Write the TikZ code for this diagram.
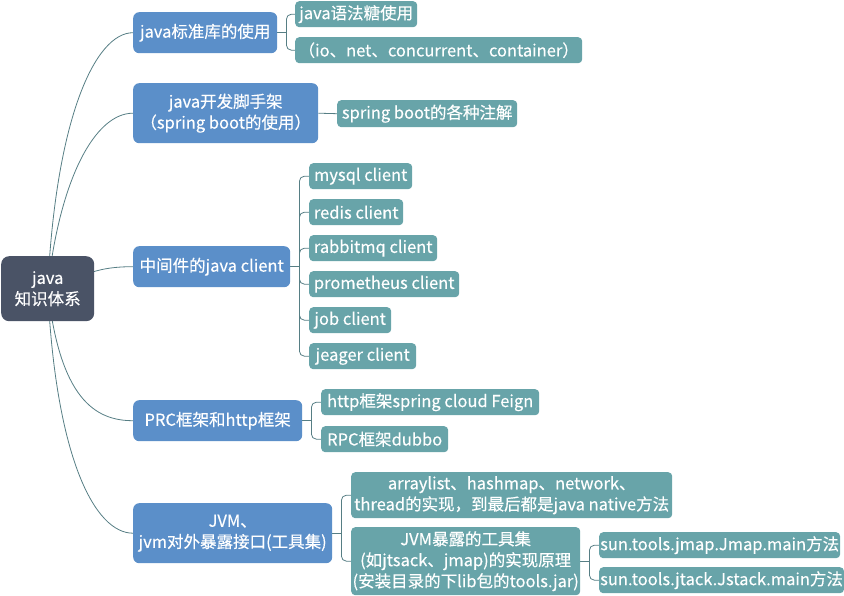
\documentclass[tikz,border=0pt]{standalone}
\usepackage{fontspec}
\setmainfont{Noto Sans CJK SC}[FakeBold=0.3]
\usetikzlibrary{backgrounds}
\definecolor{rootc}{RGB}{74,83,102}
\definecolor{lonec}{RGB}{91,143,201}
\definecolor{ltwoc}{RGB}{104,164,169}
\definecolor{connc}{RGB}{86,126,132}
\tikzset{
  box/.style={anchor=north west, text=white, align=center, inner sep=1pt,
    font=\fontsize{16.5}{21}\selectfont},
  rootbox/.style={box, fill=rootc, rounded corners=8pt},
  lone/.style={box, fill=lonec, rounded corners=6pt},
  ltwo/.style={box, fill=ltwoc, rounded corners=4pt},
  conn/.style={draw=connc, line width=0.8pt},
  elbow/.style={conn, rounded corners=5pt}
}
\begin{document}
\begin{tikzpicture}[x=1pt,y=-1pt]
\useasboundingbox (0,0) rectangle (844,596);
% root
\node[rootbox, minimum width=93, minimum height=65] (root) at (1,256) {java\\知识体系};
% level 1
\node[lone, minimum width=144, minimum height=41] (A) at (133,12) {java标准库的使用};
\node[lone, minimum width=185, minimum height=60] (B) at (133,83) {java开发脚手架\\（spring boot的使用）};
\node[lone, minimum width=157, minimum height=41] (C) at (133,246) {中间件的java client};
\node[lone, minimum width=169, minimum height=41] (D) at (133,400) {PRC框架和http框架};
\node[lone, minimum width=199, minimum height=60] (E) at (133,503) {JVM、\\jvm对外暴露接口(工具集)};
% level 2
\node[ltwo, minimum width=122, minimum height=26] (A1) at (295,1) {java语法糖使用};
\node[ltwo, minimum width=287, minimum height=26] (A2) at (295,37) {（io、net、concurrent、container）};
\node[ltwo, minimum width=180, minimum height=27] (B1) at (337,100) {spring boot的各种注解};
\node[ltwo, minimum width=103, minimum height=26] (C1) at (309,163) {mysql client};
\node[ltwo, minimum width=94, minimum height=26] (C2) at (309,199) {redis client};
\node[ltwo, minimum width=128, minimum height=26] (C3) at (309,235) {rabbitmq client};
\node[ltwo, minimum width=150, minimum height=26] (C4) at (309,271) {prometheus client};
\node[ltwo, minimum width=82, minimum height=26] (C5) at (309,307) {job client};
\node[ltwo, minimum width=107, minimum height=26] (C6) at (309,343) {jeager client};
\node[ltwo, minimum width=218, minimum height=26] (D1) at (321,389) {http框架spring cloud Feign};
\node[ltwo, minimum width=127, minimum height=26] (D2) at (321,426) {RPC框架dubbo};
\node[ltwo, minimum width=321, minimum height=46] (E1) at (351,472) {arraylist、hashmap、network、\\thread的实现，到最后都是java native方法};
\node[ltwo, minimum width=229, minimum height=68] (E2) at (351,527) {JVM暴露的工具集\\(如jtsack、jmap)的实现原理\\(安装目录的下lib包的tools.jar)};
\node[ltwo, minimum width=240, minimum height=26] (E21) at (599,532) {sun.tools.jmap.Jmap.main方法};
\node[ltwo, minimum width=244, minimum height=26] (E22) at (599,567) {sun.tools.jtack.Jstack.main方法};
% connectors
\begin{scope}[on background layer]
\draw[conn] (root.center) .. controls +(8,-170) and +(-38,0) .. (A.west);
\draw[conn] (root.center) .. controls +(12,-110) and +(-38,0) .. (B.west);
\draw[conn] (root.center) .. controls +(40,-15) and +(-35,0) .. (C.west);
\draw[conn] (root.center) .. controls +(12,110) and +(-38,0) .. (D.west);
\draw[conn] (root.center) .. controls +(8,170) and +(-38,0) .. (E.west);
% A
\coordinate (sa) at ([xshift=9pt]A.east);
\draw[conn] (A.east) -- (sa);
\draw[elbow] (A1.west) -| (sa) |- (A2.west);
% B
\draw[conn] (B.east) -- (B1.west);
% C
\coordinate (sc) at ([xshift=9pt]C.east);
\draw[conn] (C.east) -- (sc);
\draw[elbow] (C1.west) -| (sc) |- (C6.west);
\draw[elbow] (sc) |- (C2.west);
\draw[elbow] (sc) |- (C3.west);
\draw[elbow] (sc) |- (C4.west);
\draw[elbow] (sc) |- (C5.west);
% D
\coordinate (sd) at ([xshift=9pt]D.east);
\draw[conn] (D.east) -- (sd);
\draw[elbow] (D1.west) -| (sd) |- (D2.west);
% E
\coordinate (se) at ([xshift=9pt]E.east);
\draw[conn] (E.east) -- (se);
\draw[elbow] (E1.west) -| (se) |- (E2.west);
% E2
\coordinate (se2) at ([xshift=9pt]E2.east);
\draw[conn] (E2.east) -- (se2);
\draw[elbow] (E21.west) -| (se2) |- (E22.west);
\end{scope}
\end{tikzpicture}
\end{document}
